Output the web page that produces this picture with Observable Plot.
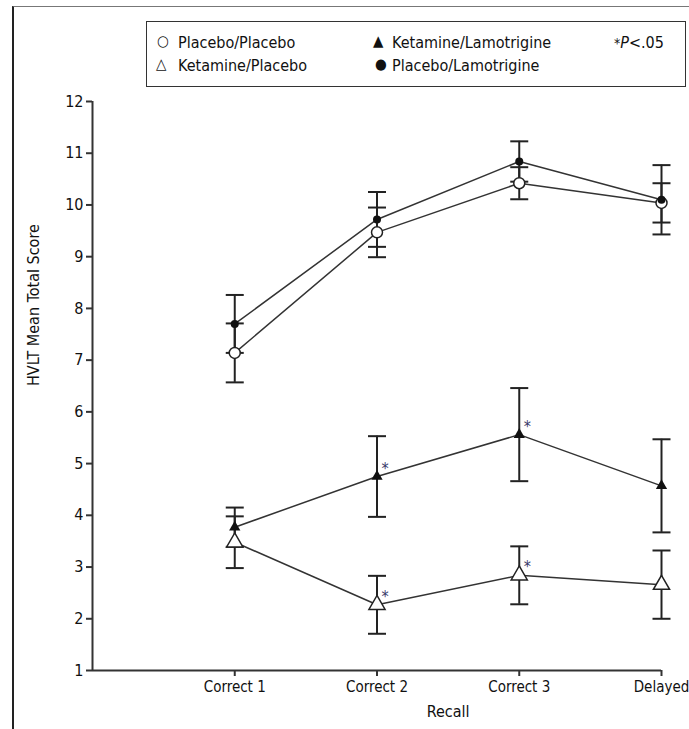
<!DOCTYPE html>
<html>
<head>
<meta charset="utf-8">
<script src="https://cdn.jsdelivr.net/npm/d3@7"></script>
<script src="https://cdn.jsdelivr.net/npm/@observablehq/plot@0.6"></script>
<style>
  body { margin: 0; background: #fff; width: 689px; height: 729px; overflow: hidden; position: relative;
         font-family: "Liberation Sans Narrow", "DejaVu Sans Condensed", "DejaVu Sans", sans-serif; font-stretch: condensed; color: #111; }
  #frame { position: absolute; left: 12px; top: 6px; width: 677px; height: 723px;
           border-top: 1px solid #777; border-left: 2px solid #222; box-sizing: border-box; }
  #legend { position: absolute; left: 146px; top: 21px; width: 540px; height: 66px;
            border: 1.5px solid #333; box-sizing: border-box; font-size: 16px; }
  .item { position: absolute; white-space: nowrap; line-height: 1; }
  .sym { position: absolute; font-family: "DejaVu Sans", sans-serif; line-height: 1; }
  #chart { position: absolute; left: 0; top: 90px; }
  #chart svg { font-stretch: condensed; }
</style>
</head>
<body>
<div id="frame"></div>
<div id="legend"></div>
<div id="chart"></div>
<script>
// ---- data ----
const recall = ["Correct 1", "Correct 2", "Correct 3", "Delayed"];
const groups = ["Placebo/Placebo", "Ketamine/Placebo", "Ketamine/Lamotrigine", "Placebo/Lamotrigine"];

const placeboPlacebo        = [7.14, 9.47, 10.42, 10.04];
const placeboPlaceboErr     = [0.57, 0.48, 0.31, 0.38];
const placeboLamotrigine    = [7.70, 9.72, 10.84, 10.10];
const placeboLamotrigineErr = [0.56, 0.53, 0.39, 0.67];
const ketamineLamotrigine    = [3.77, 4.75, 5.56, 4.57];
const ketamineLamotrigineErr = [0.38, 0.78, 0.90, 0.90];
const ketaminePlacebo        = [3.48, 2.27, 2.84, 2.66];
const ketaminePlaceboErr     = [0.50, 0.56, 0.56, 0.66];
const sigKetamineLamotrigine = [false, true, true, false];
const sigKetaminePlacebo     = [false, true, true, false];
const yTicks = [1, 2, 3, 4, 5, 6, 7, 8, 9, 10, 11, 12];
const yLabel = "HVLT Mean Total Score";
const xLabel = "Recall";
const legendNote = "P<.05";

// ---- build table ----
function rows(group, means, errs, sig) {
  return means.map((m, i) => ({group, x: i + 1, label: recall[i], y: m, lo: m - errs[i], hi: m + errs[i], sig: sig ? sig[i] : false}));
}
const pp = rows(groups[0], placeboPlacebo, placeboPlaceboErr);
const kp = rows(groups[1], ketaminePlacebo, ketaminePlaceboErr, sigKetaminePlacebo);
const kl = rows(groups[2], ketamineLamotrigine, ketamineLamotrigineErr, sigKetamineLamotrigine);
const pl = rows(groups[3], placeboLamotrigine, placeboLamotrigineErr);
const all = [...pp, ...kp, ...kl, ...pl];

const ink = "#222";
const cap = {draw(ctx) { ctx.moveTo(-9, 0); ctx.lineTo(9, 0); }};
const font = '"Liberation Sans Narrow", "DejaVu Sans Condensed", "DejaVu Sans", sans-serif';

const chart = Plot.plot({
  width: 689,
  height: 639,
  marginLeft: 92,
  marginRight: 28,
  marginTop: 11,
  marginBottom: 59,
  style: {fontFamily: font, fontSize: "16px", color: "#111", background: "transparent"},
  x: {type: "linear", domain: [0, recall.length]},
  y: {domain: [1, 12]},
  marks: [
    Plot.ruleX([0], {stroke: "#333", strokeWidth: 2}),
    Plot.ruleY([1], {stroke: "#333", strokeWidth: 2}),
    Plot.axisY({ticks: yTicks, tickSize: 6, tickPadding: 3, stroke: "#333", strokeWidth: 2, strokeOpacity: 1, fontSize: 16, label: null}),
    Plot.axisX({ticks: recall.map((d, i) => i + 1), tickFormat: (d) => recall[d - 1], tickSize: 6, tickPadding: 5, fontSize: 15,
                stroke: "#333", strokeWidth: 2, strokeOpacity: 1, label: null}),
    Plot.text([yLabel], {frameAnchor: "left", rotate: -90, dx: -59, fontSize: 16, fill: "#111"}),
    Plot.text([xLabel], {x: (recall.length + 1) / 2, frameAnchor: "bottom", dy: 46, fontSize: 16, fill: "#111"}),
    Plot.line(all, {x: "x", y: "y", z: "group", stroke: "#333", strokeWidth: 1.5}),
    Plot.ruleX(all, {x: "x", y1: "lo", y2: "hi", stroke: ink, strokeWidth: 2}),
    Plot.dot(all, {x: "x", y: "lo", symbol: cap, stroke: ink, strokeWidth: 2}),
    Plot.dot(all, {x: "x", y: "hi", symbol: cap, stroke: ink, strokeWidth: 2}),
    Plot.dot(pp, {x: "x", y: "y", r: 5.5, fill: "white", stroke: ink, strokeWidth: 1.5}),
    Plot.dot(pl, {x: "x", y: "y", r: 4, fill: "#111"}),
    Plot.dot(kp, {x: "x", y: "y", symbol: "triangle", r: 6, fill: "white", stroke: ink, strokeWidth: 1.5}),
    Plot.dot(kl, {x: "x", y: "y", symbol: "triangle", r: 4.2, fill: "#111"}),
    Plot.text(all.filter(d => d.sig), {x: "x", y: "y", text: () => "*", dx: 8, dy: -8, fontSize: 16, fill: "#3a3a6a"})
  ]
});
document.getElementById("chart").append(chart);

// ---- legend ----
const legend = document.getElementById("legend");
const legendItems = [
  {sym: "○", text: groups[0], sx: 10, tx: 31, y: 13},
  {sym: "△", text: groups[1], sx: 9, tx: 31, y: 36},
  {sym: "▲", text: groups[2], sx: 226, tx: 245, y: 13},
  {sym: "●", text: groups[3], sx: 228, tx: 245, y: 36}
];
legendItems.forEach(d => {
  const s = document.createElement("span");
  s.className = "sym"; s.textContent = d.sym;
  s.style.left = d.sx + "px"; s.style.top = (d.y - 1) + "px"; s.style.fontSize = "15px";
  legend.append(s);
  const t = document.createElement("span");
  t.className = "item"; t.textContent = d.text;
  t.style.left = d.tx + "px"; t.style.top = d.y + "px";
  legend.append(t);
});
const note = document.createElement("span");
note.className = "item";
note.style.left = "467px"; note.style.top = "13px";
note.innerHTML = '<span style="font-size:14px">*</span><i>' + legendNote.slice(0, 1) + '</i>' + legendNote.slice(1);
legend.append(note);
</script>
</body>
</html>
